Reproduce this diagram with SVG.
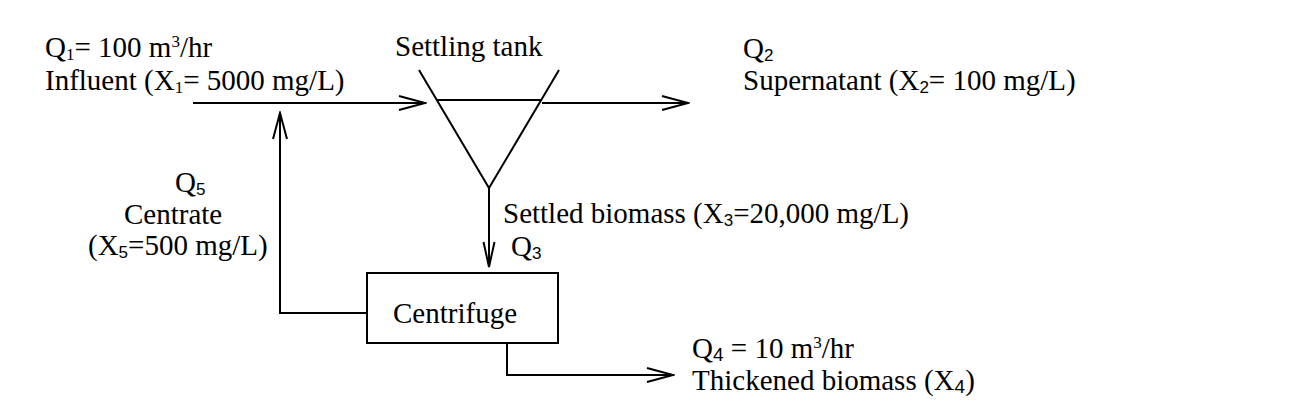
<svg xmlns="http://www.w3.org/2000/svg" width="1292" height="416" viewBox="0 0 1292 416">
<style>
text{font-family:"Liberation Serif","Times New Roman",serif;font-size:29px;fill:#000}
.sub{font-size:17px}
.subs{font-family:"Liberation Sans",Arial,sans-serif;font-size:17px}
.sup{font-size:17px}
.ln{fill:none;stroke:#000;stroke-width:2}
</style>
<defs>
<marker id="arr" viewBox="-28 -9 30 18" refX="0" refY="0" markerWidth="30" markerHeight="18" markerUnits="userSpaceOnUse" orient="auto">
<path d="M-26,-7 L0,0 L-26,7" fill="none" stroke="#000" stroke-width="2"/>
</marker>
<marker id="arrn" viewBox="-28 -9 30 18" refX="0" refY="0" markerWidth="30" markerHeight="18" markerUnits="userSpaceOnUse" orient="auto">
<path d="M-25,-5.5 L0,0 L-25,5.5" fill="none" stroke="#000" stroke-width="2"/>
</marker>
</defs>
<rect width="1292" height="416" fill="#fff"/>
<g id="settling-tank">
<path class="ln" d="M419,70 L489,188 L559,70"/>
<line class="ln" x1="436" y1="100" x2="542" y2="100"/>
<text x="395" y="56">Settling tank</text>
</g>
<g id="centrifuge">
<rect class="ln" x="367" y="273" width="191" height="70"/>
<text x="393" y="323">Centrifuge</text>
</g>
<g id="connectors">
<line class="ln" x1="193" y1="103" x2="425" y2="103" marker-end="url(#arr)"/>
<line class="ln" x1="542" y1="103" x2="688" y2="103" marker-end="url(#arr)"/>
<line class="ln" x1="489" y1="188" x2="489" y2="267" marker-end="url(#arrn)"/>
<path class="ln" d="M367,313 L280,313 L280,113" marker-end="url(#arr)"/>
<path class="ln" d="M507,343 L507,375 L673,375" marker-end="url(#arr)"/>
</g>
<g id="labels">
<text x="45" y="57">Q<tspan class="sub" dy="3">1</tspan><tspan dy="-3">= 100 m</tspan><tspan class="sup" dy="-10">3</tspan><tspan dy="10">/hr</tspan></text>
<text x="45" y="90">Influent (X<tspan class="sub" dy="3">1</tspan><tspan dy="-3">= 5000 mg/L)</tspan></text>
<text x="743" y="58">Q<tspan class="subs" dy="3">2</tspan></text>
<text x="743" y="90">Supernatant (X<tspan class="subs" dy="3">2</tspan><tspan dy="-3">= 100 mg/L)</tspan></text>
<text x="175" y="192">Q<tspan class="subs" dy="3">5</tspan></text>
<text x="124" y="224">Centrate</text>
<text x="88" y="255">(X<tspan class="subs" dy="3">5</tspan><tspan dy="-3">=500 mg/L)</tspan></text>
<text x="503" y="223">Settled biomass (X<tspan class="subs" dy="3">3</tspan><tspan dy="-3">=20,000 mg/L)</tspan></text>
<text x="511" y="256">Q<tspan class="subs" dy="3">3</tspan></text>
<text x="692" y="358">Q<tspan class="subs" style="font-size:19px" dy="3">4</tspan><tspan dy="-3"> = 10 m</tspan><tspan class="sup" dy="-10">3</tspan><tspan dy="10">/hr</tspan></text>
<text x="692" y="390">Thickened biomass (X<tspan class="subs" style="font-size:19px" dy="3">4</tspan><tspan dy="-3">)</tspan></text>
</g>
</svg>
